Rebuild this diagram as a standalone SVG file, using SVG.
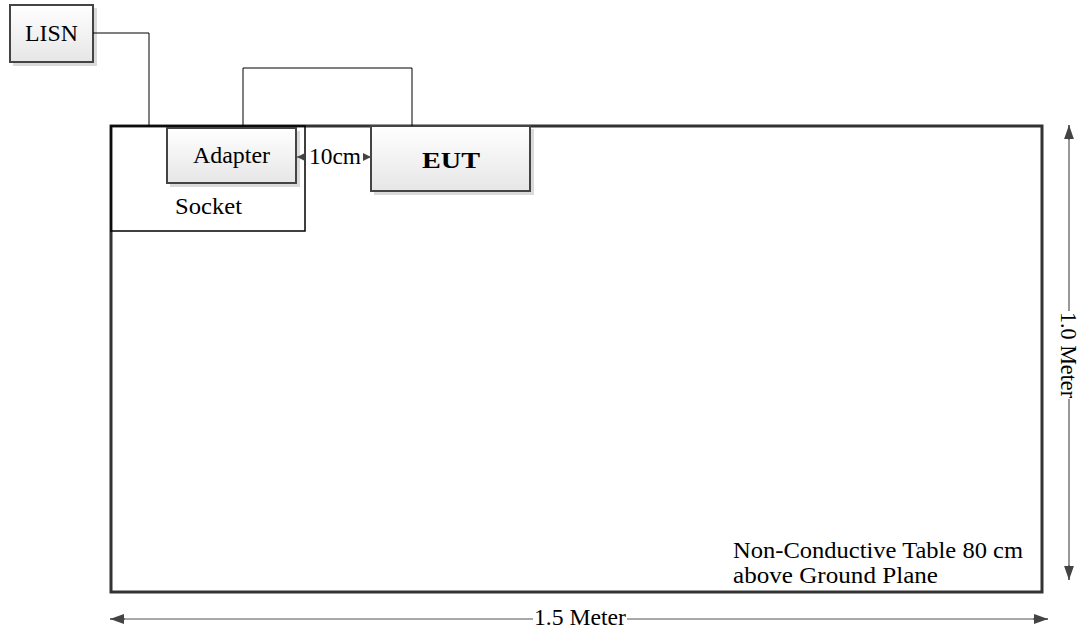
<svg xmlns="http://www.w3.org/2000/svg" width="1083" height="636" viewBox="0 0 1083 636">
<style>
text{font-family:"Liberation Serif","Times New Roman",serif;fill:#000;font-size:24px}
.box{fill:url(#g);stroke:#444;stroke-width:2}
.sh{fill:#dadada}
.ln{fill:none;stroke:#000;stroke-width:1}
.dim{fill:none;stroke:#555;stroke-width:1.2}
</style>
<defs>
<linearGradient id="g" x1="0" y1="0" x2="0" y2="1"><stop offset="0" stop-color="#ffffff"/><stop offset="1" stop-color="#e6e6e6"/></linearGradient>
<marker id="ah" viewBox="0 0 10 10" refX="10" refY="5" markerWidth="8" markerHeight="8" orient="auto-start-reverse" markerUnits="userSpaceOnUse"><path d="M0,0L10,5L0,10z" fill="#444"/></marker>
<marker id="ab" viewBox="0 0 10 10" refX="10" refY="5" markerWidth="14" markerHeight="14" orient="auto-start-reverse" markerUnits="userSpaceOnUse"><path d="M0,1.5L10,5L0,8.5z" fill="#444"/></marker>
</defs>
<g id="table"><rect x="111" y="126" width="931" height="466" fill="none" stroke="#333" stroke-width="3"/>
<text x="733" y="558" textLength="290" lengthAdjust="spacingAndGlyphs">Non-Conductive Table 80 cm</text>
<text x="733" y="583" textLength="205" lengthAdjust="spacingAndGlyphs">above Ground Plane</text></g>
<g id="socket"><rect x="111" y="126" width="194" height="105" fill="none" stroke="#000" stroke-width="1.5"/>
<text x="175" y="214" textLength="67" lengthAdjust="spacingAndGlyphs">Socket</text></g>
<g id="lisn"><rect class="sh" x="13" y="8" width="84" height="58"/><rect class="box" x="10" y="5" width="83" height="57"/>
<text x="25" y="41" textLength="53" lengthAdjust="spacingAndGlyphs">LISN</text></g>
<g id="adapter"><rect class="sh" x="170" y="131" width="130" height="56"/><rect class="box" x="167" y="128" width="129" height="55"/>
<text x="193" y="163" textLength="77" lengthAdjust="spacingAndGlyphs">Adapter</text></g>
<g id="eut"><rect class="sh" x="374" y="129" width="160" height="66"/><rect class="box" x="371" y="126" width="159" height="65"/>
<text x="422" y="168" font-size="29" font-weight="bold" textLength="58" lengthAdjust="spacingAndGlyphs">EUT</text></g>
<g id="connectors">
<path class="ln" d="M93,33H149V126"/>
<path class="ln" d="M243,126V68H412V126"/>
<line class="dim" x1="297" y1="157" x2="305" y2="157" marker-start="url(#ah)"/>
<line class="dim" x1="363" y1="157" x2="371" y2="157" marker-end="url(#ah)"/>
<text x="309" y="164" textLength="52" lengthAdjust="spacingAndGlyphs">10cm</text>
<path class="dim" d="M1069,125V311M1069,399V580"/>
<line class="dim" x1="1069" y1="125" x2="1069" y2="140" marker-start="url(#ab)"/>
<line class="dim" x1="1069" y1="565" x2="1069" y2="580" marker-end="url(#ab)"/>
<text transform="translate(1061,312) rotate(90)" textLength="86" lengthAdjust="spacingAndGlyphs">1.0 Meter</text>
<path class="dim" d="M110,619H533M627,619H1048"/>
<line class="dim" x1="110" y1="619" x2="125" y2="619" marker-start="url(#ab)"/>
<line class="dim" x1="1033" y1="619" x2="1048" y2="619" marker-end="url(#ab)"/>
<text x="534" y="625" textLength="92" lengthAdjust="spacingAndGlyphs">1.5 Meter</text>
</g>
</svg>
